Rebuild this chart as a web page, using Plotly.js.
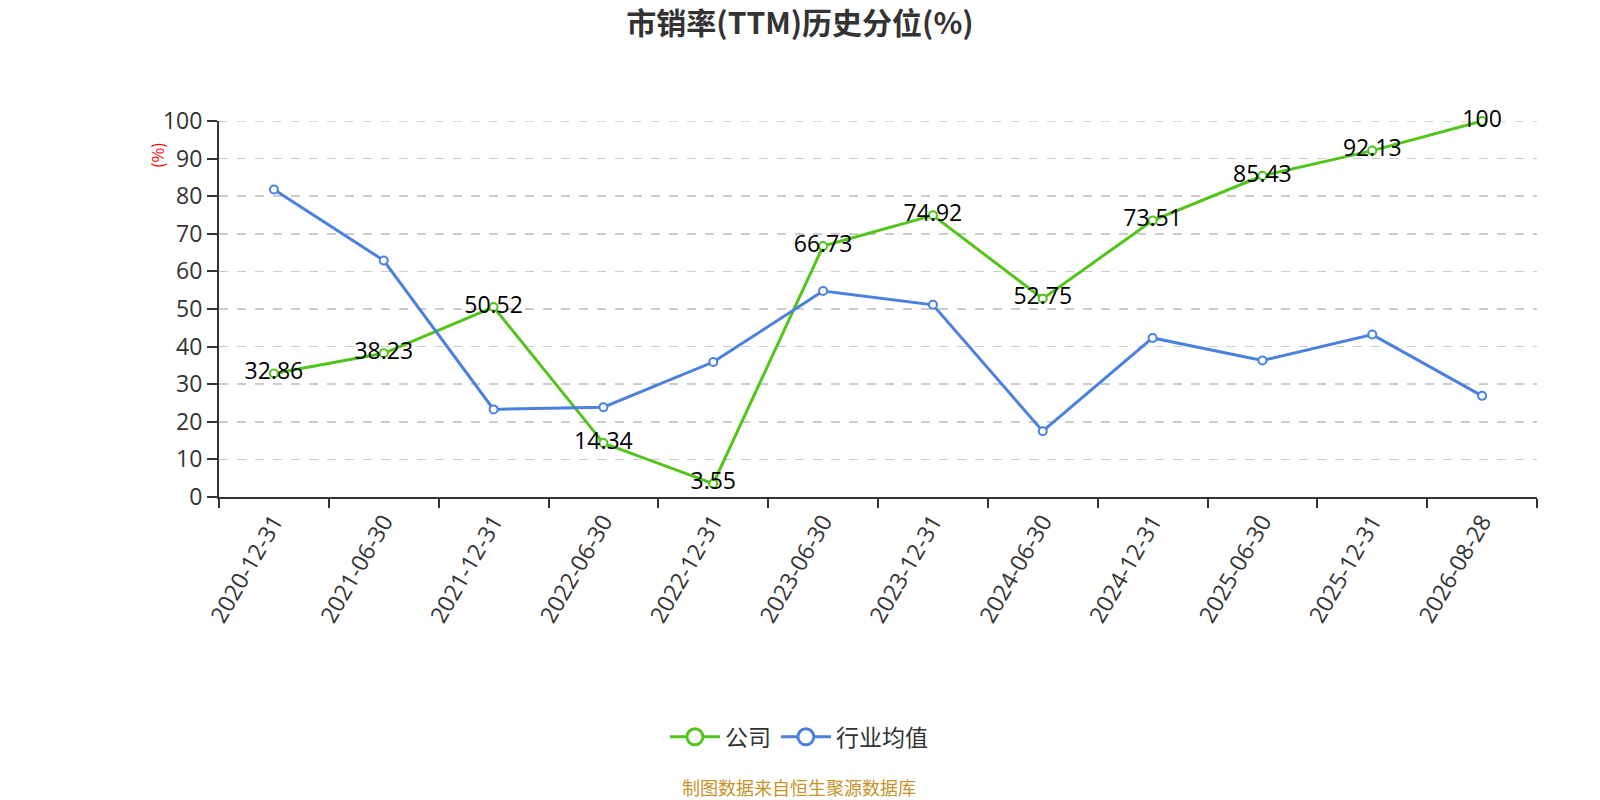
<!DOCTYPE html>
<html>
<head>
<meta charset="utf-8">
<script src="https://cdn.plot.ly/plotly-3.0.1.min.js"></script>
<style>html,body{margin:0;padding:0;background:#fff;}#chart{width:1600px;height:800px;}</style>
</head>
<body>
<div id="chart"></div>
<script>
const categories = ["2020-12-31","2021-06-30","2021-12-31","2022-06-30","2022-12-31","2023-06-30","2023-12-31","2024-06-30","2024-12-31","2025-06-30","2025-12-31","2026-08-28"];
const companyValues = [32.86, 38.23, 50.52, 14.34, 3.55, 66.73, 74.92, 52.75, 73.51, 85.43, 92.13, 100];
const industryValues = [81.8, 62.9, 23.3, 23.9, 35.9, 54.8, 51.1, 17.5, 42.3, 36.3, 43.2, 26.9];
const companyName = "公司";
const industryName = "行业均值";
const titleText = "市销率(TTM)历史分位(%)";
const sourceText = "制图数据来自恒生聚源数据库";
const yMax = 100;

const FONT = "'Open Sans', 'Noto Sans CJK SC', sans-serif";
const CJK = "'Noto Sans CJK SC', 'Open Sans', sans-serif";
const green = "#52c41a";
const blue = "#4a80e0";

const traces = [
  {
    x: categories, y: companyValues, name: companyName, type: "scatter", mode: "lines+markers+text",
    line: {color: green, width: 3},
    marker: {symbol: "circle", size: 8, color: "#ffffff", line: {color: green, width: 2}},
    text: companyValues.map(v => String(v)),
    textposition: "middle center",
    textfont: {family: FONT, size: 23, color: "#000000"},
    cliponaxis: false, showlegend: false
  },
  {
    x: categories, y: industryValues, name: industryName, type: "scatter", mode: "lines+markers",
    line: {color: blue, width: 3},
    marker: {symbol: "circle", size: 8, color: "#ffffff", line: {color: blue, width: 2}},
    cliponaxis: false, showlegend: false
  },
  {
    x: [null], y: [null], name: companyName, type: "scatter", mode: "lines+markers",
    line: {color: green, width: 3},
    marker: {symbol: "circle", size: 16, color: "#ffffff", line: {color: green, width: 3}},
    showlegend: true, hoverinfo: "skip"
  },
  {
    x: [null], y: [null], name: industryName, type: "scatter", mode: "lines+markers",
    line: {color: blue, width: 3},
    marker: {symbol: "circle", size: 16, color: "#ffffff", line: {color: blue, width: 3}},
    showlegend: true, hoverinfo: "skip"
  }
];

const layout = {
  width: 1600, height: 800,
  margin: {l: 219, r: 63, t: 121, b: 303},
  paper_bgcolor: "#ffffff", plot_bgcolor: "#ffffff",
  font: {family: FONT, color: "#333333"},
  title: {text: "<b>" + titleText + "</b>", font: {family: CJK, size: 30, color: "#333333"}, x: 0.5, xanchor: "center", y: 0.971, yanchor: "middle"},
  showlegend: true,
  legend: {orientation: "h", x: 0.44, xanchor: "center", y: -0.638, yanchor: "middle", font: {family: CJK, size: 23, color: "#333333"}, itemwidth: 50, traceorder: "normal", itemsizing: "trace"},
  xaxis: {
    type: "category", categoryorder: "array", categoryarray: categories,
    range: [-0.5, categories.length - 0.5],
    showline: true, linecolor: "#333333", linewidth: 2,
    ticks: "outside", tickson: "boundaries", ticklen: 9, tickcolor: "#333333", tickwidth: 2,
    tickangle: -60, tickfont: {family: FONT, size: 23, color: "#333333"},
    showgrid: false, zeroline: false, fixedrange: true
  },
  yaxis: {
    range: [0, yMax], dtick: 10, tick0: 0,
    showline: true, linecolor: "#333333", linewidth: 2,
    ticks: "outside", ticklen: 10, tickcolor: "#333333", tickwidth: 2,
    tickfont: {family: FONT, size: 23, color: "#333333"},
    showgrid: true, gridcolor: "#cccccc", griddash: "dash", gridwidth: 1.5,
    zeroline: false, fixedrange: true
  },
  shapes: [
    {type: "line", xref: "paper", yref: "y", x0: 0, x1: 1, y0: yMax, y1: yMax, line: {color: "#cccccc", width: 1.5, dash: "dash"}, layer: "below"}
  ],
  annotations: [
    {text: "(%)", xref: "paper", yref: "paper", x: -0.047, y: 0.91, xanchor: "center", yanchor: "middle", textangle: -90, showarrow: false, font: {family: CJK, size: 16, color: "#ff0000"}},
    {text: sourceText, xref: "paper", yref: "paper", x: 0.44, y: -0.77, xanchor: "center", yanchor: "middle", showarrow: false, font: {family: CJK, size: 18, color: "#c8922a"}}
  ]
};

Plotly.newPlot("chart", traces, layout, {displayModeBar: false, staticPlot: true});
</script>
</body>
</html>
